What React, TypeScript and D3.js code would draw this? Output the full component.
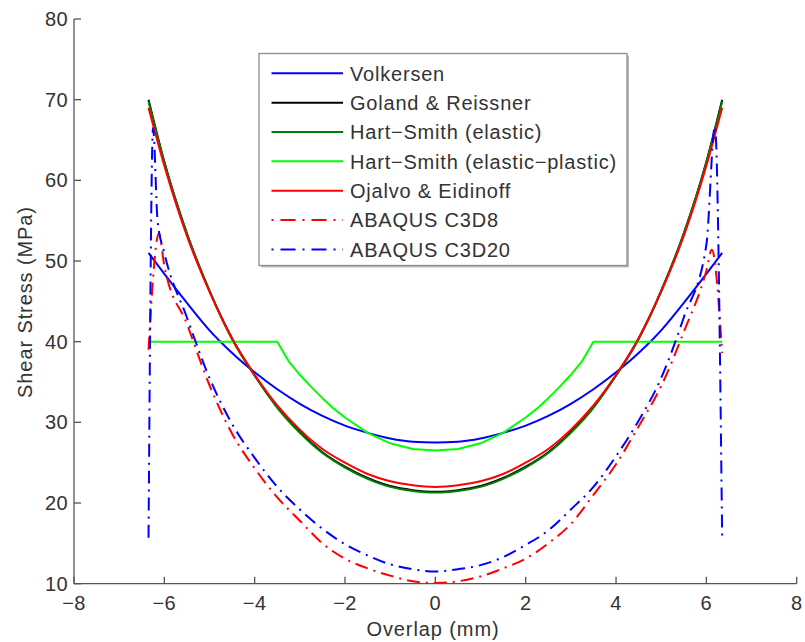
import React from "react";
import * as d3 from "d3";

const X_TICKS = [-8, -6, -4, -2, 0, 2, 4, 6, 8];
const Y_TICKS = [10, 20, 30, 40, 50, 60, 70, 80];

const X_SMOOTH = [-6.35, -6, -5.5, -5, -4.5, -4, -3.5, -3, -2.5, -2, -1.5, -1, -0.5, 0, 0.5, 1, 1.5, 2, 2.5, 3, 3.5, 4, 4.5, 5, 5.5, 6, 6.35];

const VOLKERSEN = [51, 48.4, 44.8, 41.4, 38.6, 36.2, 34.1, 32.3, 30.8, 29.6, 28.7, 28.0, 27.6, 27.5, 27.6, 28.0, 28.7, 29.6, 30.8, 32.3, 34.1, 36.2, 38.6, 41.4, 44.8, 48.4, 51];
const GOLAND = [70, 62.3, 53.4, 46.3, 40.4, 35.8, 31.9, 28.8, 26.3, 24.5, 23.1, 22.1, 21.6, 21.4, 21.6, 22.1, 23.1, 24.5, 26.3, 28.8, 31.9, 35.8, 40.4, 46.3, 53.4, 62.3, 70];
const HART_SMITH_EL = [69.8, 62.2, 53.4, 46.3, 40.3, 35.8, 31.8, 28.7, 26.2, 24.4, 23.0, 22.0, 21.5, 21.3, 21.5, 22.0, 23.0, 24.4, 26.2, 28.7, 31.8, 35.8, 40.3, 46.3, 53.4, 62.2, 69.8];
const OJALVO = [69, 61.8, 53.1, 46.2, 40.4, 35.9, 32.1, 29.1, 26.7, 25.0, 23.6, 22.7, 22.2, 22.0, 22.2, 22.7, 23.6, 25.0, 26.7, 29.1, 32.1, 35.9, 40.4, 46.2, 53.1, 61.8, 69];

const X_EP = [-6.35, -3.5, -3.25, -3, -2.75, -2.5, -2.25, -2, -1.5, -1, -0.5, 0, 0.5, 1, 1.5, 2, 2.25, 2.5, 2.75, 3, 3.25, 3.5, 6.35];
const HART_SMITH_EP = [40, 40, 37.6, 35.9, 34.4, 33.0, 31.7, 30.6, 28.7, 27.4, 26.7, 26.5, 26.7, 27.4, 28.7, 30.6, 31.7, 33.0, 34.4, 35.9, 37.6, 40, 40];

const X_C3D8 = [-6.35, -6.12, -6, -5.5, -5, -4.5, -4, -3.5, -3, -2.5, -2, -1.5, -1, -0.5, 0, 0.5, 1, 1.5, 2, 2.5, 3, 3.5, 4, 4.5, 5, 5.5, 6, 6.12, 6.35];
const C3D8 = [39, 53.4, 49.4, 42.2, 34.6, 28.6, 24.3, 20.7, 17.8, 15.0, 13.1, 11.9, 11.0, 10.3, 10.1, 10.3, 10.9, 11.9, 13.1, 15.0, 17.4, 21.0, 24.8, 29.5, 34.5, 41.2, 48.8, 51.4, 38.6];

const X_C3D20 = [-6.35, -6.25, -6.15, -6, -5.5, -5, -4.5, -4, -3.5, -3, -2.5, -2, -1.5, -1, -0.5, 0, 0.5, 1, 1.5, 2, 2.5, 3, 3.5, 4, 4.5, 5, 5.5, 6, 6.19, 6.35];
const C3D20 = [15.7, 66.5, 55, 51, 43, 35.5, 29.8, 25.6, 22, 19.2, 16.8, 14.9, 13.5, 12.4, 11.8, 11.5, 11.8, 12.3, 13.3, 14.8, 16.6, 19.2, 22, 25.8, 30.2, 35.5, 43, 52, 66.7, 15.6];

const LEGEND_LABELS = ["Volkersen", "Goland & Reissner", "Hart\u2212Smith (elastic)", "Hart\u2212Smith (elastic\u2212plastic)", "Ojalvo & Eidinoff", "ABAQUS C3D8", "ABAQUS C3D20"];

const FONT = "'Liberation Sans', Arial, Helvetica, sans-serif";
const TEXT = "#333333";
const AXIS = "#555555";

export default function App() {
  const W = 805, H = 642;
  const x = d3.scaleLinear().domain([-8, 8]).range([74, 796.7]);
  const y = d3.scaleLinear().domain([10, 80]).range([583.7, 19]);

  const series = [
    { xs: X_SMOOTH, ys: VOLKERSEN, color: "#0000ff", dash: null, curve: d3.curveMonotoneX },
    { xs: X_SMOOTH, ys: GOLAND, color: "#000000", dash: null, curve: d3.curveMonotoneX },
    { xs: X_SMOOTH, ys: HART_SMITH_EL, color: "#008000", dash: null, curve: d3.curveMonotoneX },
    { xs: X_EP, ys: HART_SMITH_EP, color: "#00ff00", dash: null, curve: d3.curveLinear },
    { xs: X_SMOOTH, ys: OJALVO, color: "#ff0000", dash: null, curve: d3.curveMonotoneX },
    { xs: X_C3D8, ys: C3D8, color: "#ff0000", dash: "13,6,2,6", curve: d3.curveMonotoneX },
    { xs: X_C3D20, ys: C3D20, color: "#0000ff", dash: "13,6,2,6", curve: d3.curveMonotoneX },
  ];

  const paths = series.map((s) => {
    const pts = s.xs.map((xv, i) => [xv, s.ys[i]] as [number, number]);
    const gen = d3.line<[number, number]>().x((d) => x(d[0])).y((d) => y(d[1])).curve(s.curve);
    return gen(pts) || "";
  });

  const x0 = x(-8), yb = y(10);
  const legX = 259, legY = 53.5, legW = 368, legH = 212;
  const rowY = (i: number) => 73.3 + i * 29.35;

  return (
    <svg width={W} height={H} style={{ position: "absolute", left: 0, top: 0, background: "#fff" }} fontFamily={FONT}>
      <rect x={0} y={0} width={W} height={H} fill="#ffffff" />
      {/* data */}
      <g fill="none" strokeLinejoin="round">
        {series.map((s, i) => (
          <path key={i} d={paths[i]} stroke={s.color} strokeWidth={2} strokeDasharray={s.dash || undefined} />
        ))}
      </g>
      {/* axes */}
      <g stroke={AXIS} strokeWidth={1.3} fill="none">
        <line x1={x0} y1={y(80)} x2={x0} y2={yb} />
        <line x1={x0} y1={yb} x2={x(8)} y2={yb} />
        {X_TICKS.map((t) => (
          <line key={"xt" + t} x1={x(t)} x2={x(t)} y1={yb} y2={yb - 7} />
        ))}
        {Y_TICKS.map((t) => (
          <line key={"yt" + t} x1={x0} x2={x0 + 7} y1={y(t)} y2={y(t)} />
        ))}
      </g>
      <g fill={TEXT} fontSize={20}>
        {X_TICKS.map((t) => (
          <text key={"xl" + t} x={x(t)} y={yb + 26} textAnchor="middle" letterSpacing={0.4}>
            {t < 0 ? "\u2212" + Math.abs(t) : String(t)}
          </text>
        ))}
        {Y_TICKS.map((t) => (
          <text key={"yl" + t} x={x0 - 6} y={y(t) + 7} textAnchor="end" letterSpacing={0.4}>
            {String(t)}
          </text>
        ))}
        <text x={433} y={636} textAnchor="middle" letterSpacing={0.9}>Overlap (mm)</text>
        <text transform={`translate(31.5,302) rotate(-90)`} textAnchor="middle" letterSpacing={0.9}>Shear Stress (MPa)</text>
      </g>
      {/* legend */}
      <g>
        <rect x={legX + 2} y={legY + 2} width={legW} height={legH} fill="#bdbdbd" />
        <rect x={legX} y={legY} width={legW} height={legH} fill="#ffffff" stroke="#8c8c8c" strokeWidth={1.3} />
        {series.map((s, i) => (
          <g key={"lg" + i}>
            <line x1={271.5} x2={343} y1={rowY(i)} y2={rowY(i)} stroke={s.color} strokeWidth={2} strokeDasharray={s.dash ? "2,7,15,7" : undefined} />
            <text x={350} y={rowY(i) + 7.3} fill={TEXT} fontSize={20} letterSpacing={0.8}>{LEGEND_LABELS[i]}</text>
          </g>
        ))}
      </g>
    </svg>
  );
}
